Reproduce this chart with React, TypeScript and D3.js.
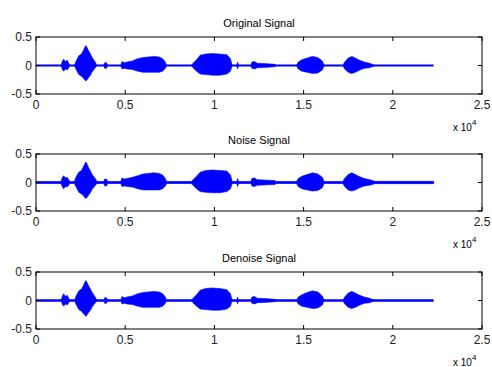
import * as d3 from 'd3'

// sample index (x), upper / lower envelope magnitude of each signal
const origPos = [1400, 1480, 1550, 1650, 1750, 1850, 1900, 2150, 2250, 2400, 2550, 2650, 2750, 2800, 2870, 2950, 3050, 3150, 3300, 3420, 3800, 3850, 3950, 4020, 4750, 4820, 4950, 5100, 5400, 5700, 6000, 6300, 6600, 6900, 7100, 7250, 7320, 8700, 8800, 9000, 9200, 9500, 9900, 10300, 10700, 10900, 11000, 11250, 11300, 11360, 12050, 12100, 12250, 12400, 13000, 13400, 13450, 14600, 14700, 14900, 15200, 15500, 15800, 16050, 16150, 17200, 17300, 17500, 17700, 17900, 18150, 18400, 18700, 19000]
const origTop = [0, 0.08, 0.11, 0.07, 0.09, 0.03, 0, 0, 0.08, 0.17, 0.2, 0.26, 0.33, 0.35, 0.31, 0.26, 0.2, 0.14, 0.07, 0, 0, 0.05, 0.05, 0, 0, 0.07, 0.05, 0.06, 0.08, 0.12, 0.14, 0.15, 0.16, 0.15, 0.12, 0.06, 0, 0, 0.04, 0.1, 0.18, 0.2, 0.21, 0.2, 0.19, 0.12, 0, 0, 0.06, 0, 0, 0.06, 0.07, 0.04, 0.03, 0.02, 0, 0, 0.06, 0.1, 0.13, 0.16, 0.14, 0.08, 0, 0, 0.06, 0.13, 0.16, 0.13, 0.09, 0.06, 0.04, 0]
const origBot = [0, 0.07, 0.1, 0.06, 0.08, 0.03, 0, 0, 0.07, 0.16, 0.19, 0.22, 0.26, 0.27, 0.25, 0.21, 0.17, 0.11, 0.05, 0, 0, 0.05, 0.05, 0, 0, 0.06, 0.05, 0.06, 0.07, 0.1, 0.12, 0.12, 0.12, 0.12, 0.1, 0.05, 0, 0, 0.04, 0.1, 0.15, 0.16, 0.17, 0.17, 0.15, 0.1, 0, 0, 0.06, 0, 0, 0.05, 0.06, 0.04, 0.03, 0.02, 0, 0, 0.06, 0.1, 0.12, 0.14, 0.13, 0.08, 0, 0, 0.06, 0.12, 0.14, 0.12, 0.08, 0.05, 0.04, 0]

const noisePos = [0, 700, 1400, 1480, 1550, 1650, 1750, 1850, 1900, 2150, 2250, 2400, 2550, 2650, 2750, 2800, 2870, 2950, 3050, 3150, 3300, 3420, 3800, 3850, 3950, 4020, 4750, 4820, 4950, 5100, 5400, 5700, 6000, 6300, 6600, 6900, 7100, 7250, 7320, 8000, 8700, 8800, 9000, 9200, 9500, 9900, 10300, 10700, 10900, 11000, 11250, 11300, 11360, 12050, 12100, 12250, 12400, 13000, 13400, 13450, 14000, 14600, 14700, 14900, 15200, 15500, 15800, 16050, 16150, 17200, 17300, 17500, 17700, 17900, 18150, 18400, 18700, 19000, 20000, 21000, 22290]
const noiseTop = [0.018, 0.018, 0.018, 0.09, 0.12, 0.08, 0.09, 0.04, 0.018, 0.018, 0.1, 0.18, 0.21, 0.27, 0.34, 0.36, 0.32, 0.26, 0.2, 0.14, 0.08, 0.018, 0.018, 0.06, 0.06, 0.018, 0.018, 0.08, 0.06, 0.07, 0.09, 0.12, 0.15, 0.16, 0.17, 0.16, 0.13, 0.07, 0.018, 0.018, 0.018, 0.05, 0.11, 0.18, 0.21, 0.22, 0.21, 0.2, 0.13, 0.018, 0.018, 0.07, 0.018, 0.018, 0.07, 0.08, 0.05, 0.04, 0.035, 0.018, 0.018, 0.018, 0.07, 0.11, 0.14, 0.17, 0.15, 0.09, 0.018, 0.018, 0.07, 0.14, 0.17, 0.14, 0.1, 0.07, 0.05, 0.02, 0.02, 0.02, 0.02]
const noiseBot = [0.018, 0.018, 0.018, 0.08, 0.11, 0.07, 0.08, 0.04, 0.018, 0.018, 0.08, 0.17, 0.2, 0.23, 0.27, 0.28, 0.26, 0.22, 0.18, 0.12, 0.06, 0.018, 0.018, 0.06, 0.06, 0.018, 0.018, 0.07, 0.06, 0.07, 0.08, 0.11, 0.13, 0.13, 0.13, 0.13, 0.11, 0.06, 0.018, 0.018, 0.018, 0.05, 0.11, 0.16, 0.17, 0.18, 0.18, 0.16, 0.11, 0.018, 0.018, 0.07, 0.018, 0.018, 0.06, 0.07, 0.05, 0.04, 0.035, 0.018, 0.018, 0.018, 0.07, 0.11, 0.13, 0.15, 0.14, 0.09, 0.018, 0.018, 0.07, 0.13, 0.15, 0.13, 0.09, 0.06, 0.05, 0.02, 0.02, 0.02, 0.02]

const denoisePos = origPos
const denoiseTop = [0, 0.08, 0.12, 0.07, 0.09, 0.03, 0, 0, 0.08, 0.17, 0.2, 0.26, 0.33, 0.35, 0.31, 0.26, 0.2, 0.14, 0.07, 0, 0, 0.05, 0.05, 0, 0, 0.07, 0.05, 0.06, 0.08, 0.12, 0.14, 0.15, 0.16, 0.15, 0.12, 0.06, 0, 0, 0.04, 0.1, 0.18, 0.21, 0.22, 0.21, 0.19, 0.12, 0, 0, 0.06, 0, 0, 0.06, 0.07, 0.04, 0.03, 0.02, 0, 0, 0.06, 0.1, 0.14, 0.17, 0.15, 0.08, 0, 0, 0.06, 0.13, 0.16, 0.13, 0.09, 0.06, 0.04, 0]
const denoiseBot = [0, 0.07, 0.1, 0.06, 0.08, 0.03, 0, 0, 0.07, 0.16, 0.19, 0.23, 0.26, 0.28, 0.25, 0.21, 0.17, 0.11, 0.05, 0, 0, 0.05, 0.05, 0, 0, 0.06, 0.05, 0.06, 0.07, 0.1, 0.12, 0.12, 0.12, 0.12, 0.1, 0.05, 0, 0, 0.04, 0.1, 0.15, 0.16, 0.17, 0.17, 0.15, 0.1, 0, 0, 0.06, 0, 0, 0.05, 0.06, 0.04, 0.03, 0.02, 0, 0, 0.06, 0.1, 0.12, 0.14, 0.13, 0.08, 0, 0, 0.06, 0.12, 0.14, 0.12, 0.08, 0.05, 0.04, 0]

const signalEnd = 22290
const titles = ['Original Signal', 'Noise Signal', 'Denoise Signal']
const xTicks = [0, 0.5, 1, 1.5, 2, 2.5]
const xTickLabels = ['0', '0.5', '1', '1.5', '2', '2.5']
const yTicks = [-0.5, 0, 0.5]
const yTickLabels = ['-0.5', '0', '0.5']

const signals = [
  { pos: origPos, top: origTop, bot: origBot, lineW: 2 },
  { pos: noisePos, top: noiseTop, bot: noiseBot, lineW: 1.5 },
  { pos: denoisePos, top: denoiseTop, bot: denoiseBot, lineW: 2.5 },
]

const W = 492
const H = 367
const left = 36
const right = 482
const panelTops = [37, 154, 272]
const panelH = 57
const font = '"Liberation Sans", Arial, sans-serif'
const blue = '#0000ff'

export default function App() {
  const x = d3.scaleLinear().domain([0, 2.5]).range([left, right])

  return (
    <svg width={W} height={H} style={{ position: 'absolute', left: 0, top: 0, background: '#fff' }}>
      <rect width={W} height={H} fill="#fff" />
      {signals.map((s, p) => {
        const top = panelTops[p]
        const y = d3.scaleLinear().domain([-0.5, 0.5]).range([top + panelH, top])
        const idx = d3.range(s.pos.length)
        const area = d3.area<number>()
          .x(i => x(s.pos[i] / 1e4))
          .y0(i => y(-s.bot[i]))
          .y1(i => y(s.top[i]))
        return (
          <g key={p}>
            <text x={(left + right) / 2} y={top - 10} textAnchor="middle" fontFamily={font} fontSize={11} fill="#000">
              {titles[p]}
            </text>
            <line x1={x(0)} x2={x(signalEnd / 1e4)} y1={y(0)} y2={y(0)} stroke={blue} strokeWidth={s.lineW} />
            <path d={area(idx) ?? ''} fill={blue} stroke={blue} strokeWidth={0.6} />
            <rect x={left} y={top} width={right - left} height={panelH} fill="none" stroke="#000" strokeWidth={1} />
            {xTicks.map((t, i) => (
              <g key={'x' + i}>
                <line x1={x(t)} x2={x(t)} y1={top + panelH} y2={top + panelH - 4} stroke="#000" />
                <line x1={x(t)} x2={x(t)} y1={top} y2={top + 4} stroke="#000" />
                <text x={x(t)} y={top + panelH + 15} textAnchor="middle" fontFamily={font} fontSize={12} fill="#222">
                  {xTickLabels[i]}
                </text>
              </g>
            ))}
            {yTicks.map((t, i) => (
              <g key={'y' + i}>
                <line x1={left} x2={left + 4} y1={y(t)} y2={y(t)} stroke="#000" />
                <line x1={right} x2={right - 4} y1={y(t)} y2={y(t)} stroke="#000" />
                <text x={left - 4} y={y(t) + 4} textAnchor="end" fontFamily={font} fontSize={12} fill="#222">
                  {yTickLabels[i]}
                </text>
              </g>
            ))}
            <text x={453} y={top + panelH + 37} fontFamily={font} fontSize={10} fill="#000">
              x 10<tspan dy={-6} fontSize={8}>4</tspan>
            </text>
          </g>
        )
      })}
    </svg>
  )
}
